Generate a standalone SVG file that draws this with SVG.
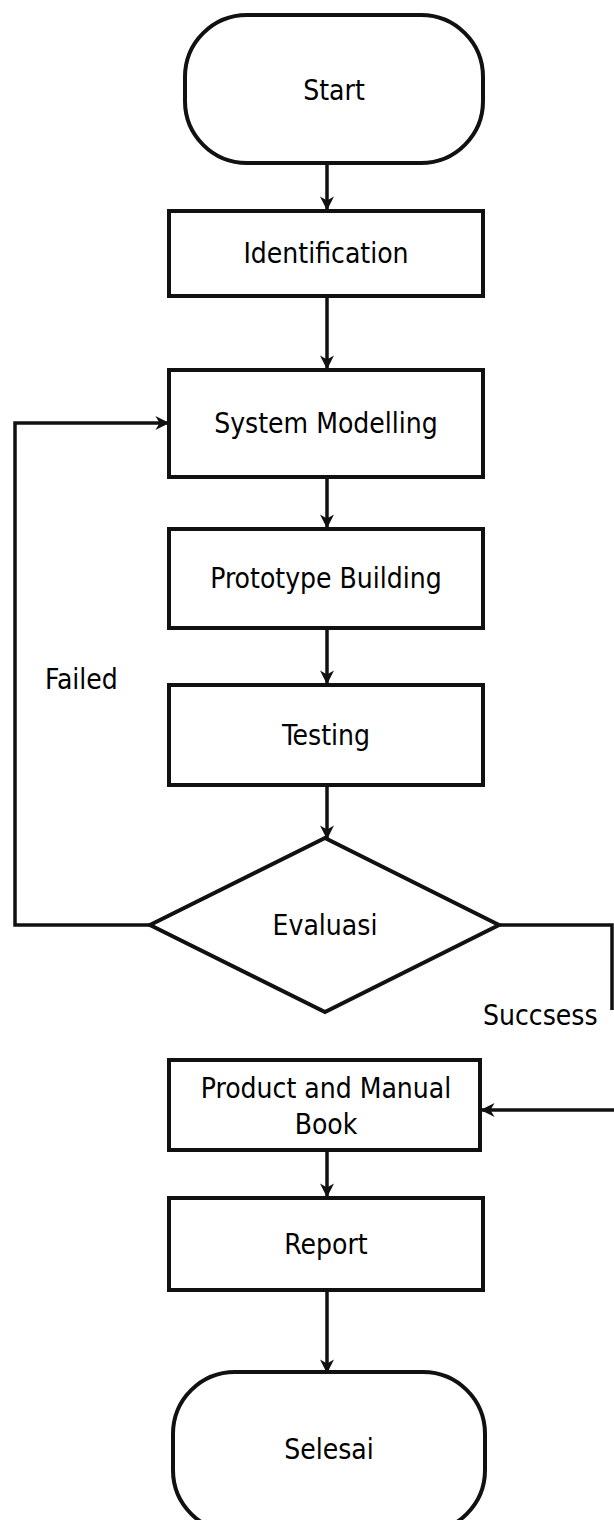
<svg xmlns="http://www.w3.org/2000/svg" width="614" height="1520" viewBox="0 0 614 1520">
<style>
.shape{fill:#fff;stroke:#111;stroke-width:4}
.conn{fill:none;stroke:#111;stroke-width:3.5}
.lbl{font-family:"DejaVu Sans Condensed","Liberation Sans",sans-serif;font-size:28px;fill:#000;text-anchor:middle;dominant-baseline:central}
.side{font-family:"DejaVu Sans Condensed","Liberation Sans",sans-serif;font-size:28px;fill:#000}
</style>
<defs>
<marker id="ah" viewBox="0 0 10 10" refX="9" refY="5" markerWidth="4" markerHeight="4" orient="auto" markerUnits="strokeWidth">
<path d="M0 0 L10 5 L0 10 L3 5 Z" fill="#111"/>
</marker>
</defs>
<rect width="614" height="1520" fill="#fff"/>
<g id="connectors">
<line class="conn" x1="327" y1="163" x2="327" y2="209" marker-end="url(#ah)"/>
<line class="conn" x1="327" y1="296" x2="327" y2="368" marker-end="url(#ah)"/>
<line class="conn" x1="327" y1="477" x2="327" y2="527" marker-end="url(#ah)"/>
<line class="conn" x1="327" y1="628" x2="327" y2="683" marker-end="url(#ah)"/>
<line class="conn" x1="327" y1="785" x2="327" y2="838" marker-end="url(#ah)"/>
<polyline class="conn" points="150,925 15,925 15,423 168,423" marker-end="url(#ah)"/>
<polyline class="conn" points="499,925 612,925 612,1010"/>
<line class="conn" x1="614" y1="1110" x2="482" y2="1110" marker-end="url(#ah)"/>
<line class="conn" x1="327" y1="1150" x2="327" y2="1196" marker-end="url(#ah)"/>
<line class="conn" x1="327" y1="1290" x2="327" y2="1372" marker-end="url(#ah)"/>
<text class="side" x="45" y="689">Failed</text>
<text class="side" x="483" y="1025">Succsess</text>
</g>
<g id="start">
<rect class="shape" x="185" y="15" width="298" height="148" rx="62" ry="62"/>
<text class="lbl" x="334" y="90">Start</text>
</g>
<g id="identification">
<rect class="shape" x="169" y="211" width="314" height="85"/>
<text class="lbl" x="326" y="253">Identification</text>
</g>
<g id="system-modelling">
<rect class="shape" x="169" y="370" width="314" height="107"/>
<text class="lbl" x="326" y="423">System Modelling</text>
</g>
<g id="prototype-building">
<rect class="shape" x="169" y="529" width="314" height="99"/>
<text class="lbl" x="326" y="578">Prototype Building</text>
</g>
<g id="testing">
<rect class="shape" x="169" y="685" width="314" height="100"/>
<text class="lbl" x="326" y="735">Testing</text>
</g>
<g id="evaluasi">
<polygon class="shape" points="325,838 499,925 325,1012 150,925" stroke-width="3.5"/>
<text class="lbl" x="325" y="925">Evaluasi</text>
</g>
<g id="product">
<rect class="shape" x="169" y="1060" width="311" height="90"/>
<text class="lbl" x="326" y="1088">Product and Manual</text>
<text class="lbl" x="326" y="1124">Book</text>
</g>
<g id="report">
<rect class="shape" x="169" y="1198" width="314" height="92"/>
<text class="lbl" x="326" y="1244">Report</text>
</g>
<g id="selesai">
<rect class="shape" x="173" y="1372" width="312" height="160" rx="62" ry="62"/>
<text class="lbl" x="329" y="1449">Selesai</text>
</g>
</svg>
